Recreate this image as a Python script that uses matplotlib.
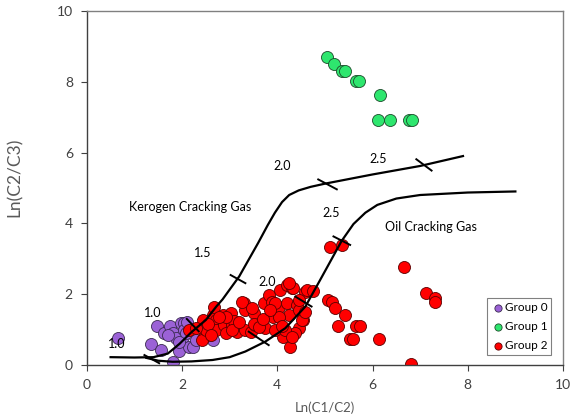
import matplotlib
matplotlib.use("Agg")
import matplotlib.pyplot as plt

plt.rcParams['font.family'] = ['Lato', 'DejaVu Sans']

# Group 0 (purple)
g0_x = [0.65, 1.47, 1.63, 1.75, 1.82, 1.98, 2.05, 1.35, 1.55, 1.80, 1.93,
        2.01, 1.87, 2.15, 2.05, 2.11, 1.70, 2.08, 1.94, 2.22, 2.64, 2.30]
g0_y = [0.77, 1.10, 0.91, 1.10, 0.91, 1.18, 1.18, 0.59, 0.42, 0.09, 0.38,
        0.80, 0.75, 0.52, 0.99, 1.22, 0.85, 0.89, 0.66, 0.52, 0.71, 0.70]

# Group 1 (green)
g1_x = [5.04, 5.20, 5.35, 5.43, 5.66, 5.72, 6.15, 6.12, 6.36, 6.76, 6.83]
g1_y = [8.70, 8.49, 8.31, 8.31, 8.03, 8.03, 7.63, 6.92, 6.92, 6.92, 6.92]

# Group 2 (red)
g2_x = [2.15, 2.43, 2.46, 2.42, 2.64, 2.67, 2.71, 2.71, 2.85, 2.88, 2.92,
        3.02, 3.05, 3.16, 3.30, 3.33, 3.33, 3.44, 3.51, 3.54, 3.72, 3.75,
        3.82, 3.89, 3.92, 4.03, 4.06, 4.20, 4.20, 4.31, 4.24, 4.13, 4.27,
        4.41, 4.45, 4.55, 4.59, 4.38, 5.11, 5.35, 4.62, 4.76, 5.07, 5.14,
        5.21, 5.42, 5.28, 5.66, 5.73, 4.45, 4.52, 4.59, 4.03, 3.96, 6.67,
        7.13, 7.31, 7.32, 5.53, 5.60, 6.14, 6.81, 2.50, 3.26, 3.47, 4.34,
        4.24, 4.45, 3.09, 2.92, 2.78, 3.05, 3.51, 3.61, 3.96, 4.17, 4.31,
        2.55, 2.30, 3.20, 3.70, 4.10, 2.60, 3.85]
g2_y = [0.99, 1.27, 0.80, 0.71, 1.41, 1.65, 1.27, 0.99, 1.41, 1.13, 0.89,
        1.46, 1.13, 0.94, 1.74, 1.55, 0.99, 0.94, 1.46, 1.13, 1.74, 1.04,
        1.98, 1.79, 1.36, 1.65, 2.12, 1.74, 2.26, 2.17, 1.41, 0.80, 0.52,
        1.69, 1.04, 1.27, 2.07, 0.89, 3.34, 3.39, 2.12, 2.10, 1.84, 1.79,
        1.60, 1.41, 1.10, 1.10, 1.10, 1.55, 1.27, 1.50, 1.36, 1.74, 2.78,
        2.04, 1.88, 1.79, 0.73, 0.73, 0.73, 0.03, 0.98, 1.78, 1.60, 2.17,
        2.31, 1.84, 1.25, 1.36, 1.36, 0.98, 1.17, 1.08, 0.98, 0.98, 0.80,
        1.15, 1.05, 1.20, 1.30, 1.10, 0.85, 1.55]

# kerogen cracking trend
ker_x = [0.5, 1.0, 1.4, 1.7, 1.95, 2.2, 2.5, 2.72, 2.85, 3.2, 3.6, 3.8,
         3.95, 4.1, 4.25, 4.45, 4.7, 5.0, 6.0, 7.0, 7.9]
ker_y = [0.22, 0.21, 0.22, 0.32, 0.6, 0.93, 1.27, 1.65, 1.85, 2.5, 3.45,
         3.95, 4.3, 4.6, 4.8, 4.93, 5.03, 5.12, 5.38, 5.62, 5.9]

# oil cracking trend
oil_x = [1.25, 1.5, 1.8, 2.2, 2.64, 3.0, 3.33, 3.75, 4.17, 4.59, 4.9, 5.35,
         5.6, 5.85, 6.1, 6.5, 7.0, 8.0, 9.0]
oil_y = [0.2, 0.12, 0.09, 0.1, 0.14, 0.22, 0.38, 0.66, 1.04, 1.65, 2.4,
         3.5, 3.98, 4.3, 4.52, 4.7, 4.8, 4.87, 4.9]

# short marks across the trends (x0, x1, y0, y1)
marks = [(2.10, 2.35, 1.30, 0.95), (3.02, 3.33, 2.54, 2.31),
         (4.86, 5.25, 5.24, 4.96), (6.92, 7.24, 5.81, 5.49),
         (1.21, 1.52, 0.28, 0.05), (3.40, 3.82, 0.94, 0.56),
         (4.38, 4.72, 1.93, 1.65), (5.18, 5.53, 3.63, 3.39)]

# value labels
lab_text = ['1.0', '1.0', '1.5', '2.0', '2.0', '2.5', '2.5']
lab_x = [0.62, 1.38, 2.43, 3.79, 4.10, 6.12, 5.14]
lab_y = [0.58, 1.46, 3.15, 2.35, 5.62, 5.81, 4.29]

fig = plt.figure(figsize=(5.71, 4.19), dpi=100)
ax = fig.add_axes([0.152, 0.129, 0.834, 0.845])

ax.scatter(g0_x, g0_y, s=75, color='#9b62d6', edgecolors='#3a2a50',
           linewidths=0.6, label='Group 0', zorder=2)
ax.scatter(g1_x, g1_y, s=75, color='#2ee66e', edgecolors='#1c4a2a',
           linewidths=0.6, label='Group 1', zorder=2)
ax.scatter(g2_x, g2_y, s=75, color='#ff0000', edgecolors='#5a0000',
           linewidths=0.6, label='Group 2', zorder=2)

ax.plot(ker_x, ker_y, color='black', lw=1.6, zorder=3)
ax.plot(oil_x, oil_y, color='black', lw=1.6, zorder=3)
for x0, x1, y0, y1 in marks:
    ax.plot([x0, x1], [y0, y1], color='black', lw=1.4, zorder=3)

for t, x, y in zip(lab_text, lab_x, lab_y):
    ax.text(x, y, t, fontsize=9, ha='center', va='center', zorder=4)
ax.text(2.18, 4.47, 'Kerogen Cracking Gas', fontsize=9, ha='center', va='center')
ax.text(7.22, 3.9, 'Oil Cracking Gas', fontsize=9, ha='center', va='center')

ax.set_xlim(0, 10)
ax.set_ylim(0, 10)
ax.set_xticks([0, 2, 4, 6, 8, 10])
ax.set_yticks([0, 2, 4, 6, 8, 10])
ax.tick_params(direction='out', length=4, labelsize=10, colors='#404040',
               pad=6)
for sp in ax.spines.values():
    sp.set_color('#808080')
    sp.set_linewidth(1.0)
ax.spines['left'].set_color('#404040')
ax.spines['bottom'].set_color('#404040')

ax.set_xlabel('Ln(C1/C2)', fontsize=9.5, color='#595959', labelpad=8)
ax.set_ylabel('Ln(C2/C3)', fontsize=12.5, color='#595959')
ax.yaxis.set_label_coords(-0.135, 0.53)

leg = ax.legend(loc='lower right', bbox_to_anchor=(0.975, 0.028),
                fontsize=8.5, handletextpad=0.0, handlelength=1.2,
                borderpad=0.3, labelspacing=0.7, markerscale=0.6,
                fancybox=False, framealpha=1, edgecolor='#808080',
                borderaxespad=0)
leg.get_frame().set_linewidth(0.8)

fig.savefig('out.png', dpi=100)
